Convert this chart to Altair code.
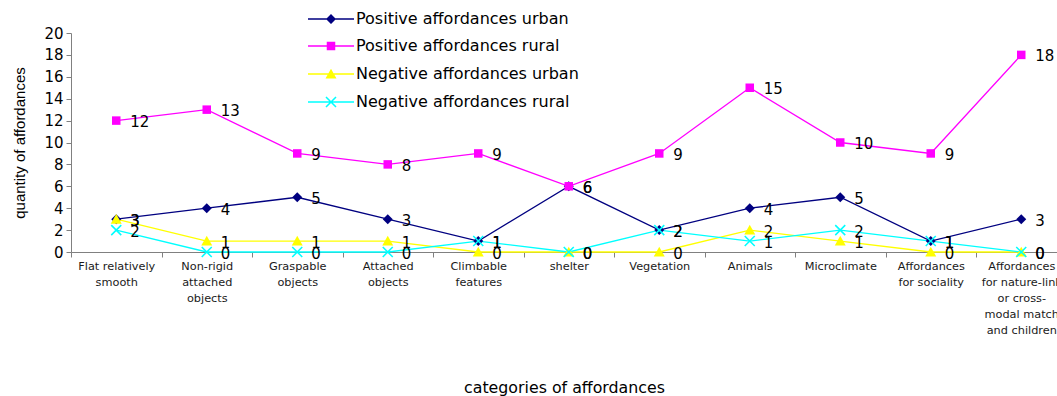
import json

import altair as alt
import pandas as pd

# Category labels, one list of lines per category
categories = [
    ["Flat relatively", "smooth"],
    ["Non-rigid", "attached", "objects"],
    ["Graspable", "objects"],
    ["Attached", "objects"],
    ["Climbable", "features"],
    ["shelter"],
    ["Vegetation"],
    ["Animals"],
    ["Microclimate"],
    ["Affordances", "for sociality"],
    ["Affordances", "for nature-link", "or cross-", "modal match", "and children"],
]

series = [
    "Positive affordances urban",
    "Positive affordances rural",
    "Negative affordances urban",
    "Negative affordances rural",
]

positive_urban = [3, 4, 5, 3, 1, 6, 2, 4, 5, 1, 3]
positive_rural = [12, 13, 9, 8, 9, 6, 9, 15, 10, 9, 18]
negative_urban = [3, 1, 1, 1, 0, 0, 0, 2, 1, 0, 0]
negative_rural = [2, 0, 0, 0, 1, 0, 2, 1, 2, 1, 0]

y_ticks = [0, 2, 4, 6, 8, 10, 12, 14, 16, 18, 20]

colors = ["#000080", "#FF00FF", "#FFFF00", "#00FFFF"]

# Marker outlines in the unit box used by Vega symbols
DIAMOND = "M0,-1L1,0L0,1L-1,0Z"
SQUARE = "M-0.85,-0.85H0.85V0.85H-0.85Z"
TRIANGLE = "M0,-1.05L1.1,0.9H-1.1Z"
CROSS = ("M-0.89,-1.11L1.11,0.89L0.89,1.11L-1.11,-0.89Z"
         "M1.11,-0.89L-0.89,1.11L-1.11,0.89L0.89,-1.11Z")
markers = [DIAMOND, SQUARE, TRIANGLE, CROSS]
# Legend keys: a short line with the marker on it
BAR = "M-4.6,-0.13H4.6V0.13H-4.6Z"
legend_keys = [BAR + m for m in markers]

values = [positive_urban, positive_rural, negative_urban, negative_rural]
rows = []
for s, vals in zip(series, values):
    for i, v in enumerate(vals):
        rows.append({"idx": i, "series": s, "value": v})
df = pd.DataFrame(rows)

FONT = "DejaVu Sans"
GREY = "#808080"

PLOT_W = 986
PLOT_H = 219
x_domain = [-0.5, 10.395]
# half a category step in pixels: ticks sit between categories, labels on them
half_step = PLOT_W / (x_domain[1] - x_domain[0]) / 2

label_expr = json.dumps(categories) + "[datum.value]"

x_axis = alt.Axis(
    values=list(range(len(categories))),
    labelExpr=label_expr,
    labelAngle=0,
    labelFont=FONT,
    labelFontSize=11.3,
    labelLineHeight=16,
    labelColor="#1a1a1a",
    labelPadding=3,
    labelBaseline="top",
    labelOverlap=False,
    labelFlush=False,
    labelBound=False,
    labelLimit=0,
    tickOffset=-half_step,
    labelOffset=half_step,
    tickSize=5,
    tickColor=GREY,
    domainColor=GREY,
    grid=False,
    title="categories of affordances",
    titleFont=FONT,
    titleFontSize=15.8,
    titleFontWeight="normal",
    titleColor="#000000",
    titleBaseline="middle",
    titleY=135,
)

y_axis = alt.Axis(
    values=y_ticks,
    labelFont=FONT,
    labelFontSize=15,
    labelColor="#000000",
    labelPadding=3,
    tickSize=5,
    tickColor=GREY,
    domainColor=GREY,
    grid=False,
    title="quantity of affordances",
    titleFont="Liberation Sans",
    titleFontSize=15,
    titleFontWeight="normal",
    titleColor="#000000",
    titleBaseline="middle",
    titleX=-52,
)

x_scale = alt.Scale(domain=x_domain, nice=False, zero=False)
y_scale = alt.Scale(domain=[0, 20], nice=False)
color_scale = alt.Scale(domain=series, range=colors)

X = alt.X("idx:Q", scale=x_scale, axis=x_axis)
Y = alt.Y("value:Q", scale=y_scale, axis=y_axis)

base = alt.Chart(df)

lines = base.mark_line(strokeWidth=1.3).encode(
    x=X, y=Y,
    color=alt.Color("series:N", scale=color_scale, legend=None),
)

points = base.mark_point(filled=True, opacity=1, size=100).encode(
    x=X, y=Y,
    color=alt.Color("series:N", scale=color_scale, legend=None),
    shape=alt.Shape("series:N", scale=alt.Scale(domain=series, range=markers), legend=None),
)

legend = alt.Legend(
    title=None,
    orient="none",
    legendX=252,
    legendY=-22,
    padding=0,
    symbolSize=100,
    symbolOpacity=1,
    labelFont=FONT,
    labelFontSize=16,
    labelColor="#000000",
    labelOffset=17,
    labelLimit=0,
    rowPadding=11,
)

legend_carrier = base.mark_point(filled=True, opacity=0, size=100).encode(
    x=X, y=Y,
    color=alt.Color("series:N", scale=color_scale, legend=legend),
    shape=alt.Shape("series:N", scale=alt.Scale(domain=series, range=legend_keys), legend=legend),
)

texts = base.mark_text(
    align="left", baseline="middle", dx=14, dy=1.5,
    font=FONT, fontSize=15, color="#000000",
).encode(
    x=X, y=Y,
    text=alt.Text("value:Q"),
)

chart = (
    alt.layer(lines, points, legend_carrier, texts)
    .resolve_scale(color="independent", shape="independent")
    .properties(
        width=PLOT_W,
        height=PLOT_H,
        autosize=alt.AutoSizeParams(type="none"),
        padding={"left": 71, "top": 33, "right": 0, "bottom": 144},
        background="#ffffff",
    )
    .configure_view(stroke=None)
)

chart.save("out.html", embed_options={"renderer": "svg", "actions": False})
